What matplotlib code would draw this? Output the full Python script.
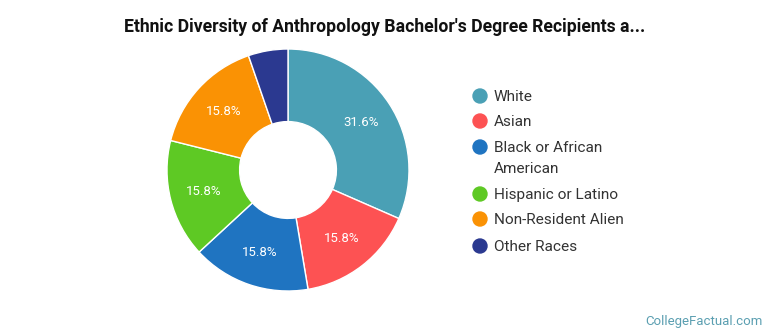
import matplotlib
matplotlib.use("Agg")
import matplotlib.pyplot as plt

categories = ["White", "Asian", "Black or African American", "Hispanic or Latino",
              "Non-Resident Alien", "Other Races"]
legend_labels = ["White", "Asian", "Black or African\nAmerican", "Hispanic or Latino",
                 "Non-Resident Alien", "Other Races"]
values = [31.6, 15.8, 15.8, 15.8, 15.8, 5.3]
colors = ["#4aa0b5", "#fd5253", "#1f74c1", "#5ec924", "#fa9204", "#2b3990"]

plt.rcParams['font.family'] = ['Roboto', 'DejaVu Sans']

W, H = 770, 335
fig = plt.figure(figsize=(W / 100, H / 100), dpi=100)

cx, cy, r = 288, 170, 121
ax = fig.add_axes([(cx - r) / W, (H - cy - r) / H, 2 * r / W, 2 * r / H])

wedges, texts, autotexts = ax.pie(
    values, colors=colors, startangle=90, counterclock=False, radius=1,
    wedgeprops=dict(width=0.6, edgecolor='white', linewidth=1),
    autopct=lambda p: f"{p:.1f}%" if p > 10 else "", pctdistance=0.72,
    textprops=dict(color='white', fontsize=9.5))
ax.set_xlim(-1, 1)
ax.set_ylim(-1, 1)
ax.set_aspect('equal')
ax.axis('off')

fig.text(0.5, 1 - 27 / H, "Ethnic Diversity of Anthropology Bachelor's Degree Recipients a...",
         ha='center', va='center', fontsize=12.7, fontweight='bold', color='#111111')

rows_y = [96, 121, 147, 194, 219, 246]
for lab, col, yy in zip(legend_labels, colors, rows_y):
    fig.patches.append(matplotlib.patches.Ellipse((480 / W, 1 - yy / H), 14 / W, 14 / H,
                                                  transform=fig.transFigure, color=col))
    fig.text(494 / W, 1 - (yy - 6) / H, lab, ha='left', va='top', fontsize=11.1,
             color='#333333', linespacing=1.65)

fig.text(763 / W, 1 - 321 / H, "CollegeFactual.com", ha='right', va='center',
         fontsize=9.5, color='#5b9fb1')

fig.savefig("out.png", dpi=100)
